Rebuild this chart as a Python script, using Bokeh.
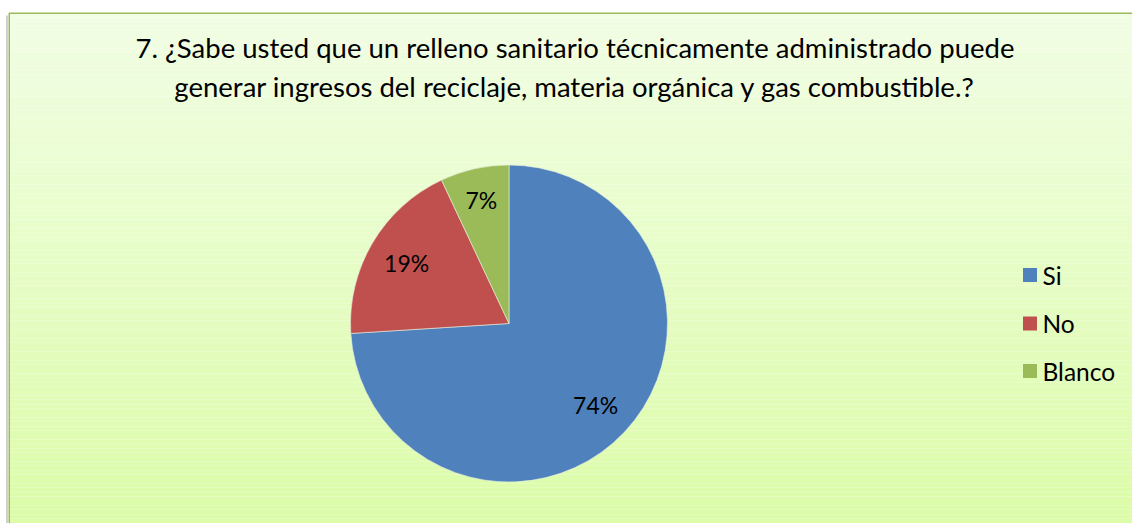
import numpy as np
from bokeh.plotting import figure
from bokeh.models import Range1d
from bokeh.core.properties import value
from bokeh.embed import file_html
from bokeh.resources import INLINE

# ---- data ----
title_lines = ["7. ¿Sabe usted que un relleno sanitario técnicamente administrado puede",
               "generar ingresos del reciclaje, materia orgánica y gas combustible.?"]
categories = ["Si", "No", "Blanco"]
values = [74, 19, 7]
labels = ["74%", "19%", "7%"]
colors = ["#4f81bd", "#c0504d", "#9bbb59"]

W, H = 1132, 523
OX, OY = 0, 0


def Y(img_y):
    return OY + H - img_y  # convert image y to data y (pixel units)


p = figure(width=W, height=H, output_backend="svg", toolbar_location=None,
           x_range=Range1d(OX, OX + W), y_range=Range1d(0, H),
           min_border=0, outline_line_color=None)
p.axis.visible = False
p.grid.visible = False
p.background_fill_color = "white"
p.border_fill_color = "white"

# gradient background box
n = 120
top_img, bot_img = 12.5, 540.0
edges = np.linspace(top_img, bot_img, n + 1)
c0 = np.array([241, 253, 228])
c1 = np.array([219, 252, 166])
cols = []
for i in range(n):
    t = i / (n - 1)
    c = (c0 * (1 - t) + c1 * t).round().astype(int)
    cols.append("#%02x%02x%02x" % tuple(c))
p.quad(left=9, right=OX + W + 20, top=[Y(e) for e in edges[:-1]],
       bottom=[Y(e) for e in edges[1:]], fill_color=cols, line_color=None)
# shadow + border
p.line([6.5, 6.5], [Y(15), Y(560)], line_color="#d0d0d0", line_width=2)
p.line([8.75, 8.75, OX + W + 20], [Y(560), Y(12.75), Y(12.75)],
       line_color="#9bbb59", line_width=1.5)

# title
for i, t in enumerate(title_lines):
    p.text(x=[574.5], y=[Y(47 + 39 * i)], text=[t], text_align="center",
           text_baseline="alphabetic", text_font=value("Lato"),
           text_font_size="27.5px", text_color="#000000")

# pie
cx, cy, r = 508.5, Y(323), 158.5
vals = np.array(values, dtype=float)
frac = vals / vals.sum()
cum = np.concatenate([[0], np.cumsum(frac)])
start = np.pi / 2 - 2 * np.pi * cum[:-1]
end = np.pi / 2 - 2 * np.pi * cum[1:]
p.wedge(x=cx, y=cy, radius=r, start_angle=start, end_angle=end,
        direction="clock", fill_color=colors, line_color="#e8f0e0",
        line_width=0.6)

# slice labels
lab_r = [0.75, 0.75, 0.80]
mid = (start + end) / 2
lx = cx + np.array(lab_r) * r * np.cos(mid)
ly = cy + np.array(lab_r) * r * np.sin(mid)
p.text(x=lx, y=ly, text=labels, text_align="center", text_baseline="middle",
       text_font=value("Lato"), text_font_size="23px", text_color="#000000")

# legend
leg_y = [Y(274.5), Y(323), Y(370.5)]
p.rect(x=[1029.5] * 3, y=leg_y, width=14, height=14, width_units="screen",
       height_units="screen", fill_color=colors, line_color=None)
p.text(x=[1042] * 3, y=leg_y, text=categories, text_align="left",
       text_baseline="middle", text_font=value("Lato"),
       text_font_size="24.5px", text_color="#000000")

open("out.html", "w").write(file_html(p, INLINE))
